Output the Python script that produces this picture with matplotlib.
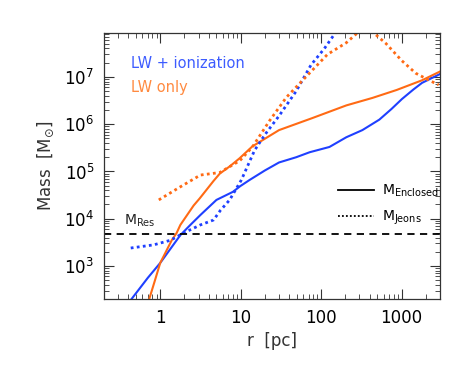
import matplotlib
matplotlib.use("Agg")
import matplotlib.pyplot as plt
from matplotlib.lines import Line2D
from matplotlib.ticker import FixedLocator, FixedFormatter

# --- 数据 ---
# LW + ionization: 包围质量
r_ion_enc = [0.44, 0.7, 1.0, 1.78, 2.37, 3.16, 5.0, 8.0, 9.9, 12.9, 20, 30, 49, 72, 127, 206, 326, 530, 750, 1010, 1400, 1800, 3000]
m_ion_enc = [200, 560, 1160, 4500, 7400, 1.2e4, 2.5e4, 3.7e4, 4.9e4, 6.6e4, 1.05e5, 1.55e5, 2.0e5, 2.55e5, 3.3e5, 5.3e5, 7.5e5, 1.25e6, 2.1e6, 3.4e6, 5.4e6, 7.5e6, 1.15e7]

# LW only: 包围质量
r_lw_enc = [0.73, 0.85, 1.0, 1.39, 1.6, 1.78, 2.6, 3.1, 4.6, 5.5, 7.4, 9.7, 14, 30, 78, 206, 435, 870, 1800, 3000]
m_lw_enc = [200, 465, 1160, 3500, 5000, 7400, 1.9e4, 2.7e4, 6.3e4, 9.0e4, 1.3e5, 1.9e5, 3.4e5, 7.5e5, 1.35e6, 2.5e6, 3.6e6, 5.3e6, 8.5e6, 1.3e7]

# LW + ionization: Jeans 质量
r_ion_jeans = [0.43, 0.83, 1.34, 1.96, 3.16, 4.6, 5.6, 7.3, 10.2, 14.9, 20, 30, 49, 75, 110, 150, 165]
m_ion_jeans = [2400, 2800, 3500, 5000, 7400, 9400, 1.5e4, 2.5e4, 6.6e4, 2.8e5, 6e5, 1.5e6, 5e6, 1.8e7, 4e7, 8.5e7, 1.1e8]

# LW only: Jeans 质量
r_lw_jeans = [0.96, 1.73, 3.16, 5.5, 9.8, 14, 23, 37, 59, 120, 206, 282, 350, 435, 640, 1010, 1500, 2200, 2900]
m_lw_jeans = [2.5e4, 4.6e4, 8.4e4, 9.5e4, 1.7e5, 3.3e5, 1.2e6, 3.7e6, 8.5e6, 3e7, 5.3e7, 8.5e7, 1.0e8, 9e7, 5.1e7, 2.2e7, 1.2e7, 8.5e6, 6.8e6]

m_res = 4.8e3

x_ticks = [1, 10, 100, 1000]
x_tick_labels = ["1", "10", "100", "1000"]

blue = "#1f40ff"
orange = "#ff6a14"

fig = plt.figure(figsize=(4.71, 3.66), dpi=100)
ax = fig.add_axes([0.2208, 0.183, 0.7132, 0.7268])

ax.plot(r_ion_enc, m_ion_enc, color=blue, lw=1.5)
ax.plot(r_lw_enc, m_lw_enc, color=orange, lw=1.5)
ax.plot(r_ion_jeans, m_ion_jeans, color=blue, lw=2, ls=(0, (1, 1.2)))
ax.plot(r_lw_jeans, m_lw_jeans, color=orange, lw=2, ls=(0, (1, 1.2)))
ax.axhline(m_res, color="black", lw=1.3, ls=(0, (4, 3)))

ax.set_xscale("log")
ax.set_yscale("log")
ax.set_xlim(0.2, 3000)
ax.set_ylim(200, 8.5e7)

ax.xaxis.set_major_locator(FixedLocator(x_ticks))
ax.xaxis.set_major_formatter(FixedFormatter(x_tick_labels))

ax.tick_params(which="both", direction="in", top=True, right=True, labelsize=12, color="#333333")
ax.tick_params(which="major", length=7, width=0.8, pad=7)
ax.tick_params(which="minor", length=3.5, width=0.6)
for s in ax.spines.values():
    s.set_linewidth(0.9)
    s.set_color("#333333")

ax.set_xlabel("r  [pc]", fontsize=12, color="#333333")
ax.set_ylabel(r"Mass  [$\mathrm{M}_{\odot}$]", fontsize=12, color="#333333", labelpad=6)

ax.text(0.08, 0.885, "LW + ionization", transform=ax.transAxes, color="#3d5cff", fontsize=10.5, va="center")
ax.text(0.08, 0.795, "LW only", transform=ax.transAxes, color="#ff8a40", fontsize=10.5, va="center")
ax.text(0.06, 0.265, r"M$_{\rm Res}$", transform=ax.transAxes, color="#222222", fontsize=10, va="bottom")

handles = [Line2D([], [], color="black", lw=1.3, ls="-"),
           Line2D([], [], color="black", lw=1.3, ls=(0, (1, 1.2)))]
labels = [r"M$_{\rm Enclosed}$", r"M$_{\rm Jeons}$"]
ax.legend(handles, labels, loc="center left", bbox_to_anchor=(0.675, 0.355), frameon=False,
          fontsize=10, handlelength=2.6, handletextpad=0.6, labelspacing=0.7, borderpad=0)

fig.savefig("out.png", dpi=100)
